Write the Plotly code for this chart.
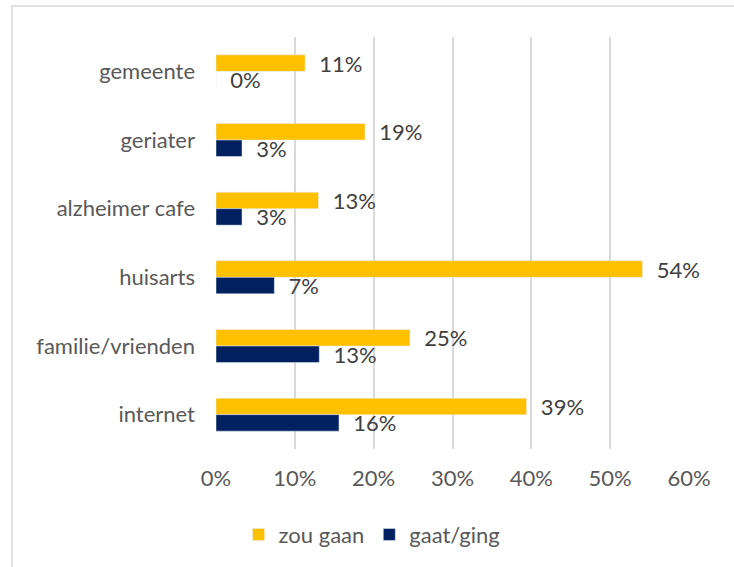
import plotly.graph_objects as go

categories = ["gemeente", "geriater", "alzheimer cafe", "huisarts", "familie/vrienden", "internet"]
zou_gaan = [0.113, 0.189, 0.130, 0.541, 0.246, 0.394]
gaat_ging = [0.0, 0.033, 0.033, 0.074, 0.131, 0.156]
tick_vals = [0, 0.1, 0.2, 0.3, 0.4, 0.5, 0.6]
tick_text = ["0%", "10%", "20%", "30%", "40%", "50%", "60%"]

FONT = "Lato"
FS = 22
fig = go.Figure()
fig.add_trace(go.Bar(
    y=categories, x=zou_gaan, orientation="h", name="zou gaan",
    marker=dict(color="#FFC000"),
    text=["  " + f"{v*100:.0f}%" for v in zou_gaan], textposition="outside",
    constraintext="none",
    textfont=dict(color="#404040", size=FS, family=FONT), cliponaxis=False,
))
fig.add_trace(go.Bar(
    y=categories, x=gaat_ging, orientation="h", name="gaat/ging",
    marker=dict(color="#002060"),
    text=["  " + f"{v*100:.0f}%" for v in gaat_ging], textposition="outside",
    constraintext="none",
    textfont=dict(color="#404040", size=FS, family=FONT), cliponaxis=False,
))

fig.update_layout(
    width=734, height=567,
    margin=dict(l=216, r=45, t=37, b=117),
    paper_bgcolor="white", plot_bgcolor="white",
    barmode="group", bargap=0.52, bargroupgap=0,
    font=dict(family=FONT, size=FS, color="#595959"),
    showlegend=True,
    legend=dict(orientation="h", x=0.33, xanchor="center", y=-0.205, yanchor="middle",
                font=dict(size=FS, color="#595959", family=FONT), itemwidth=30,
                traceorder="normal"),
    uniformtext=dict(mode=False),
)
fig.update_xaxes(range=[0, 0.6], tickvals=tick_vals, ticktext=tick_text,
                 showgrid=True, gridcolor="#D9D9D9", gridwidth=1.5, automargin=False,
                 zeroline=False, showline=False, ticks="", ticklabelstandoff=14,
                 tickfont=dict(size=FS, color="#595959", family=FONT))
fig.update_yaxes(autorange="reversed", showgrid=False, zeroline=False, showline=False,
                 ticks="", ticklabelstandoff=20, automargin=False,
                 tickfont=dict(size=FS, color="#595959", family=FONT))
fig.add_shape(type="rect", xref="paper", yref="paper",
              x0=(12 - 216) / 473, x1=(760 - 216) / 473,
              y0=(450 - 600) / 413, y1=(450 - 6) / 413,
              line=dict(color="#D9D9D9", width=1.5), fillcolor="rgba(0,0,0,0)", layer="below")

fig.write_html("out.html", config={"displayModeBar": False},
               post_script="document.body.style.margin='0';document.body.style.overflow='hidden';")
